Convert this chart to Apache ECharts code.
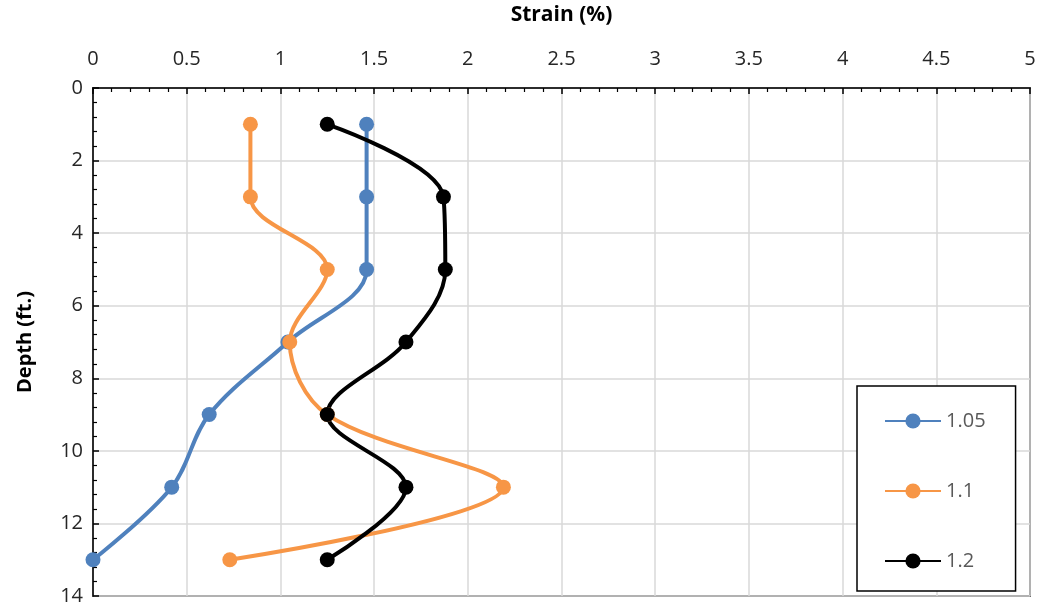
<!DOCTYPE html>
<html>
<head>
<meta charset="utf-8">
<script src="https://cdn.jsdelivr.net/npm/echarts@6/dist/echarts.min.js"></script>
<style>
  html, body { margin: 0; padding: 0; background: #fff; }
  #chart { width: 1039px; height: 608px; }
</style>
</head>
<body>
<div id="chart"></div>
<script>
  // depth (ft.) for each reading
  var depths = [1, 3, 5, 7, 9, 11, 13]
  // strain (%) per series
  var strain105 = [1.46, 1.46, 1.46, 1.04, 0.62, 0.42, 0.0]
  var strain110 = [0.84, 0.84, 1.25, 1.05, 1.25, 2.19, 0.73]
  var strain120 = [1.25, 1.87, 1.88, 1.67, 1.25, 1.67, 1.25]
  var seriesNames = ['1.05', '1.1', '1.2']
  var seriesColors = ['#4f81bd', '#f79646', '#000000']

  function pairs(vals) {
    return vals.map(function (v, i) { return [v, depths[i]] })
  }

  var chart = echarts.init(document.getElementById('chart'))
  var font = 'Open Sans'

  chart.setOption({
    backgroundColor: '#fff',
    animation: false,
    grid: {
      left: 93,
      right: 9,
      top: 88,
      bottom: 12,
      show: true,
      borderColor: '#000',
      borderWidth: 1.5
    },
    legend: {
      orient: 'vertical',
      left: 857,
      top: 386,
      padding: [25, 30, 20, 27],
      itemWidth: 56,
      itemHeight: 19,
      itemGap: 50,
      borderColor: '#000',
      borderWidth: 1.5,
      backgroundColor: '#fff',
      textStyle: { fontFamily: font, fontSize: 20, color: '#595959' },
      data: seriesNames
    },
    xAxis: {
      type: 'value',
      position: 'top',
      min: 0,
      max: 5,
      interval: 0.5,
      name: 'Strain (%)',
      nameLocation: 'middle',
      nameGap: 62,
      nameTextStyle: { fontFamily: font, fontSize: 21, fontWeight: 'bold', color: '#000' },
      axisLine: { lineStyle: { color: '#000', width: 1.5 } },
      axisTick: { inside: true, length: 6, lineStyle: { color: '#000', width: 1.5 } },
      minorTick: { show: true, splitNumber: 5, length: 4, lineStyle: { color: '#000', width: 1.2 } },
      axisLabel: { fontFamily: font, fontSize: 20, color: '#262626', margin: 19 },
      splitLine: { lineStyle: { color: '#d9d9d9', width: 1.5 } }
    },
    yAxis: {
      type: 'value',
      inverse: true,
      min: 0,
      max: 14,
      interval: 2,
      name: 'Depth (ft.)',
      nameLocation: 'middle',
      nameGap: 58,
      nameTextStyle: { fontFamily: font, fontSize: 20, fontWeight: 'bold', color: '#000' },
      axisLine: { lineStyle: { color: '#000', width: 1.5 } },
      axisTick: { inside: true, length: 6, lineStyle: { color: '#000', width: 1.5 } },
      minorTick: { show: true, splitNumber: 5, length: 4, lineStyle: { color: '#000', width: 1.2 } },
      axisLabel: { fontFamily: font, fontSize: 20, color: '#262626', margin: 10 },
      splitLine: { lineStyle: { color: '#d9d9d9', width: 1.5 } }
    },
    series: [strain105, strain110, strain120].map(function (vals, i) {
      return {
        name: seriesNames[i],
        type: 'line',
        smooth: 0.35,
        symbol: 'circle',
        symbolSize: 15,
        lineStyle: { color: seriesColors[i], width: 4 },
        itemStyle: { color: seriesColors[i] },
        data: pairs(vals)
      }
    })
  })
</script>
</body>
</html>
